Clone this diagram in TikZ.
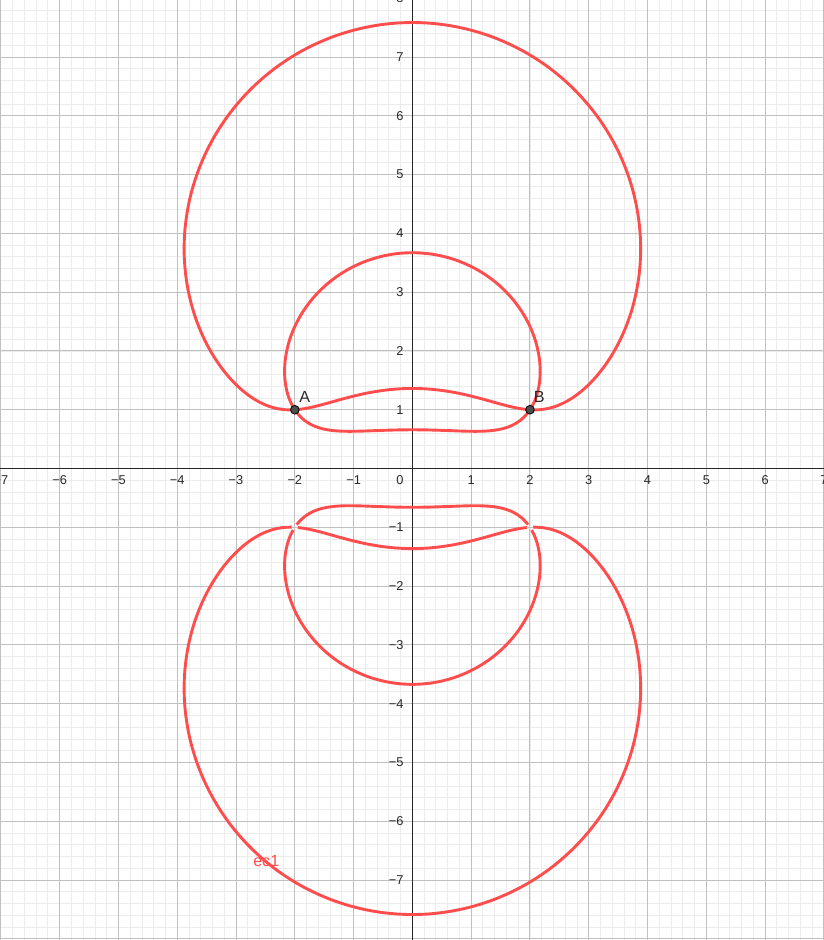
\documentclass[tikz,border=0pt]{standalone}
\usepackage{fontspec}
\setmainfont{Liberation Sans}
\definecolor{curvecol}{RGB}{255,77,77}
\definecolor{ptfill}{RGB}{77,77,77}
\definecolor{labcol}{RGB}{40,40,40}
\definecolor{axiscol}{RGB}{37,37,37}
\definecolor{minorcol}{RGB}{236,236,236}
\definecolor{majorcol}{RGB}{192,192,192}
\tikzset{
  minorgrid/.style={draw=minorcol, line width=0.42pt},
  majorgrid/.style={draw=majorcol, line width=0.5pt},
  axisline/.style={draw=axiscol, line width=0.7pt},
  ticklab/.style={font=\fontsize{6.2}{7}\selectfont, text=labcol, inner sep=0pt},
  ptlab/.style={font=\fontsize{7.8}{9}\selectfont, text=labcol, inner sep=0pt},
  curveline/.style={draw=curvecol, line width=1.4pt, line cap=round, line join=round},
  ptdot/.style={circle, fill=ptfill, draw=black, line width=0.4pt, minimum size=4.2pt, inner sep=0pt},
}
% The curve: arg( ((z-2)^2+1)/((z+2)^2+1) ) = +-60 deg (mod 180), z = x+iy.
% One arc per angle #1, parameter t in [-7,7], #2 steps; stored in macro #3.
\newcommand{\ecarc}[3]{%
  \gdef\ecpts{}%
  \pgfmathsetmacro\ecstep{14/#2}%
  \foreach \i in {0,...,#2} {%
    \pgfmathsetmacro\ectv{-7+\i*\ecstep}%
    \pgfmathsetmacro\ecden{cosh(\ectv)-cos(#1)}%
    \pgfmathsetmacro\ecmr{-sinh(\ectv)/(\ecden)}%
    \pgfmathsetmacro\ecmi{sin(#1)/(\ecden)}%
    \pgfmathsetmacro\ecer{5-4*((\ecmr)*(\ecmr)-(\ecmi)*(\ecmi))}%
    \pgfmathsetmacro\ecei{-8*(\ecmr)*(\ecmi)}%
    \pgfmathsetmacro\ecpp{sqrt((sqrt((\ecer)*(\ecer)+(\ecei)*(\ecei))+(\ecer))/2)}%
    \pgfmathsetmacro\ecqq{(\ecei)/(2*(\ecpp))}%
    \pgfmathsetmacro\ecpx{2*(\ecmr)-(\ecqq)}%
    \pgfmathsetmacro\ecpy{2*(\ecmi)+(\ecpp)}%
    \xdef\ecpts{\ecpts (\ecpx,\ecpy)}%
  }%
  \global\let#3\ecpts
}
\ecarc{60}{360}{\ecouter}
\ecarc{120}{240}{\ecinner}
\ecarc{-60}{180}{\eclowlens}
\ecarc{-120}{180}{\ecuplens}
\newcommand{\ecbranches}{%
  \edef\ecdo{%
    \noexpand\draw[curveline] plot[smooth] coordinates {\ecouter};
    \noexpand\draw[curveline] plot[smooth] coordinates {\ecinner};
    \noexpand\draw[curveline] plot[smooth] coordinates {\eclowlens};
    \noexpand\draw[curveline] plot[smooth] coordinates {\ecuplens};
  }%
  \ecdo
}
\begin{document}
\begin{tikzpicture}
  \useasboundingbox (-7.015,-8.02) rectangle (7.0,7.97);
  \clip (-7.015,-8.02) rectangle (7.0,7.97);
  % grid
  \draw[minorgrid] (-7.2,-8.2) grid[step=0.2] (7.2,8.2);
  \draw[majorgrid] (-8,-9) grid[step=1] (8,9);
  % axes
  \coordinate (xl) at (-7.2,0);
  \coordinate (xr) at (7.2,0);
  \coordinate (yb) at (0,-8.2);
  \coordinate (yt) at (0,8.2);
  \draw[axisline] (xl) -- (xr);
  \draw[axisline] (yb) -- (yt);
  % tick labels
  \foreach \k in {1,...,7} {
    \node[ticklab] (xp\k) at (\k,-0.196) {\k};
    \node[ticklab] (xn\k) at (-\k,-0.196) {−\k};
    \node[ticklab, anchor=east] (yn\k) at (-0.145,-\k) {−\k};
  }
  \foreach \k in {1,...,8} {
    \node[ticklab, anchor=east] (yp\k) at (-0.145,\k) {\k};
  }
  \node[ticklab, anchor=east] (zero) at (-0.145,-0.196) {0};
  % curve, upper half
  \begin{scope}
    \ecbranches
  \end{scope}
  % curve, lower half (mirror, with small gaps at the singular points)
  \begin{scope}[yscale=-1]
    \clip (-7.5,-8.5) -- (7.5,-8.5) -- (7.5,8.5) -- (-7.5,8.5) -- cycle
          (-1.94,1) arc[start angle=0, end angle=-360, radius=0.06] -- cycle
          (2.06,1) arc[start angle=0, end angle=-360, radius=0.06] -- cycle;
    \ecbranches
  \end{scope}
  % points
  \node[ptdot] (A) at (-2,1) {};
  \node[ptdot] (B) at (2,1) {};
  \node[ptlab] (Alab) at (-1.833,1.224) {A};
  \node[ptlab] (Blab) at (2.16,1.224) {B};
  \node[ptlab, text=curvecol] (eclab) at (-2.486,-6.672) {ec1};
\end{tikzpicture}
\end{document}
